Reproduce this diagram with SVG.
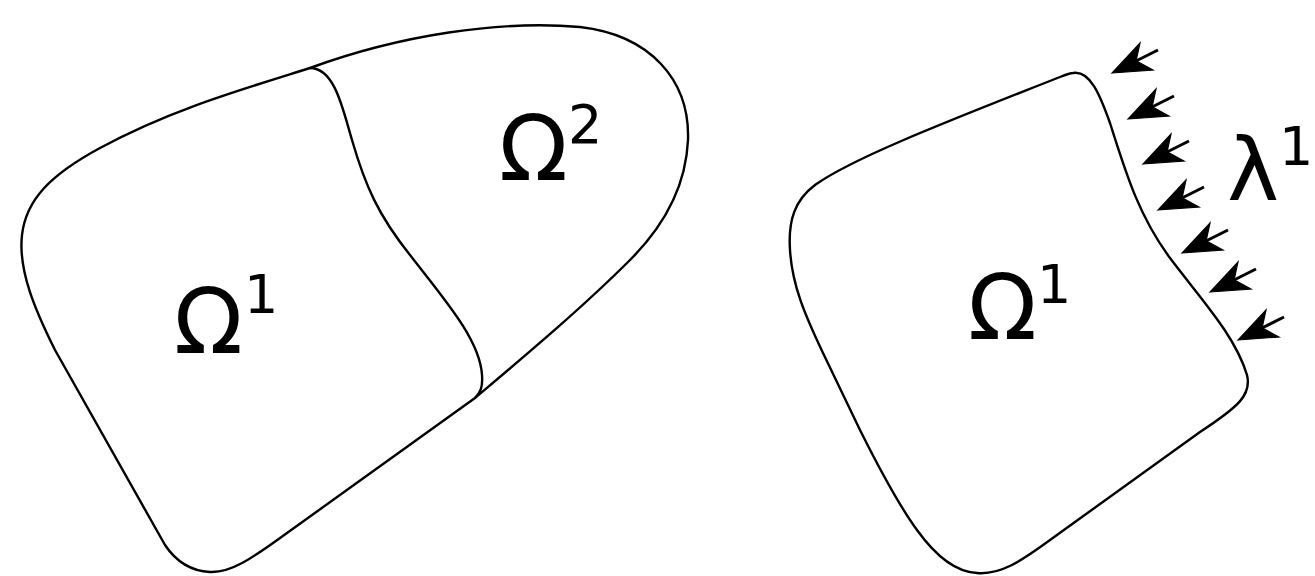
<svg xmlns="http://www.w3.org/2000/svg" xmlns:xlink="http://www.w3.org/1999/xlink" width="1315" height="576" viewBox="0 0 1315 576">
<style>
.outline{fill:none;stroke:#000;stroke-width:2.4;stroke-linejoin:round}
.big{font-family:"DejaVu Sans",sans-serif;font-size:90px;fill:#000}
.sup{font-family:"DejaVu Sans",sans-serif;font-size:54px;fill:#000}
</style>
<defs>
<g id="arrow">
<line x1="22" y1="-11" x2="46" y2="-23" stroke="#000" stroke-width="3"/>
<path d="M0,0 L41,-3 L24.1,-12.1 L28,-30 Z" fill="#000" stroke="#000" stroke-width="1.2" stroke-linejoin="miter"/>
</g>
</defs>
<rect width="1315" height="576" fill="#fff"/>
<g id="left-domain">
<path class="outline" d="M310,68 C400,35 500,20 580,27 C650,35 690,80 688,140 C686,185 665,225 630,260 C580,310 520,360 475,398 L287,533 C250,560 230,573 210,572 C190,571 175,560 165,545 L55,350 C35,310 18,270 22,235 C26,200 50,175 100,148 C170,110 240,90 310,68 Z"/>
<path class="outline" d="M310,68 C335,68 343,110 352,140 C365,185 378,215 410,255 C445,300 480,340 482,375 C483,388 480,393 475,398"/>
</g>
<g id="omega1-left">
<text class="big" x="174" y="353">Ω</text>
<text class="sup" x="244" y="313">1</text>
</g>
<g id="omega2">
<text class="big" x="499" y="180">Ω</text>
<text class="sup" x="568" y="143">2</text>
</g>
<g id="right-domain">
<path class="outline" d="M1073,73 C1090,70 1100,95 1110,123 C1125,170 1138,215 1170,258 C1200,298 1235,335 1247,375 C1252,395 1238,407 1200,432 L1050,540 C1020,562 1000,575 977,573 C955,572 935,555 917,530 C895,500 870,450 860,430 L823,353 C805,315 792,285 790,250 C788,220 795,200 815,185 C850,160 930,128 1060,77 C1065,75 1070,73 1073,73 Z"/>
</g>
<g id="omega1-right">
<text class="big" x="968" y="339">Ω</text>
<text class="sup" x="1037" y="303">1</text>
</g>
<g id="lambda1">
<text class="big" x="1227" y="200" style="font-size:88px">λ</text>
<text class="sup" x="1279" y="165">1</text>
</g>
<g id="connectors">
<use xlink:href="#arrow" href="#arrow" transform="translate(1112,73)"/>
<use xlink:href="#arrow" href="#arrow" transform="translate(1128,119)"/>
<use xlink:href="#arrow" href="#arrow" transform="translate(1143,164)"/>
<use xlink:href="#arrow" href="#arrow" transform="translate(1158,210)"/>
<use xlink:href="#arrow" href="#arrow" transform="translate(1182,253)"/>
<use xlink:href="#arrow" href="#arrow" transform="translate(1210,292)"/>
<use xlink:href="#arrow" href="#arrow" transform="translate(1238,340)"/>
</g>
</svg>
